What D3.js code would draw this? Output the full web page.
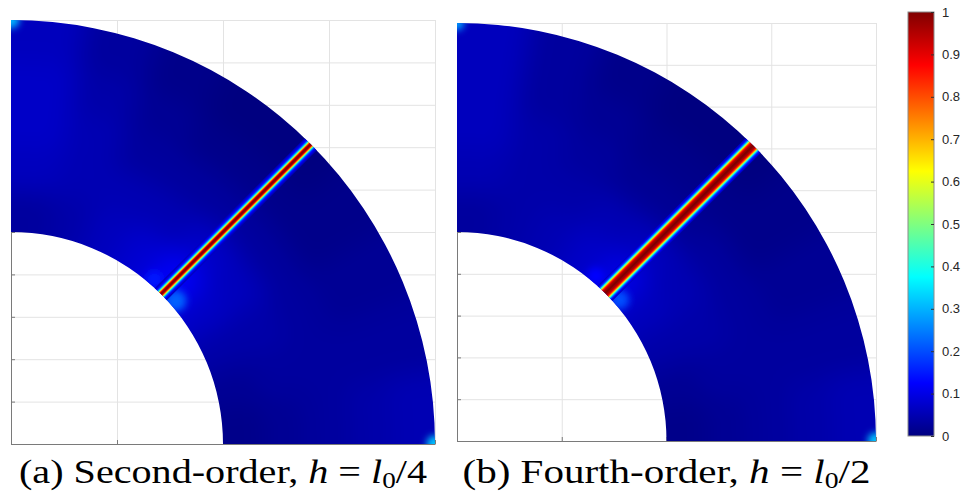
<!DOCTYPE html>
<html>
<head>
<meta charset="utf-8">
<script src="https://cdn.jsdelivr.net/npm/d3@7/dist/d3.min.js"></script>
<style>
  body { margin: 0; background: #fff; }
</style>
</head>
<body>
<div id="chart"></div>
<script>
// axis ticks / grid (domain units)
var xTicks = [0, 0.5, 1, 1.5, 2];
var yTicks = [0, 0.2, 0.4, 0.6, 0.8, 1, 1.2, 1.4, 1.6, 1.8, 2];

// quarter annulus and crack direction
var innerR = 1, outerR = 2, crackAngle = 45;

// coarse background field (rows: r bins inner->outer, cols: theta bins 0->90 deg)
var rEdges = [1, 1.2, 1.4, 1.6, 1.8, 2];
var thetaEdges = [0, 10, 20, 30, 40, 50, 60, 70, 80, 90];
var fieldA = [
  [0.01, 0.02, 0.04, 0.07, 0.12, 0.08, 0.06, 0.04, 0.03],
  [0.02, 0.03, 0.04, 0.06, 0.07, 0.05, 0.05, 0.05, 0.06],
  [0.03, 0.03, 0.03, 0.03, 0.03, 0.03, 0.03, 0.05, 0.07],
  [0.04, 0.03, 0.02, 0.01, 0.01, 0.01, 0.02, 0.04, 0.07],
  [0.05, 0.03, 0.02, 0.01, 0.00, 0.00, 0.01, 0.03, 0.06]
];
var fieldB = [
  [0.01, 0.02, 0.04, 0.06, 0.10, 0.07, 0.05, 0.04, 0.03],
  [0.02, 0.03, 0.04, 0.05, 0.06, 0.05, 0.04, 0.04, 0.05],
  [0.03, 0.03, 0.03, 0.03, 0.02, 0.02, 0.03, 0.04, 0.06],
  [0.04, 0.03, 0.02, 0.01, 0.01, 0.01, 0.02, 0.03, 0.06],
  [0.05, 0.03, 0.02, 0.01, 0.00, 0.00, 0.01, 0.03, 0.06]
];

// crack profile across the band: distance from crack line -> phase field value
var bandOffsetsA = [0, 0.0047, 0.0071, 0.0094, 0.0118, 0.0142, 0.0165, 0.0189, 0.0212, 0.0236, 0.0283, 0.033, 0.0377];
var bandValuesA  = [1.0, 0.97, 0.9, 0.8, 0.68, 0.55, 0.43, 0.33, 0.25, 0.19, 0.13, 0.09, 0.06];
var bandOffsetsB = [0, 0.0095, 0.0143, 0.0167, 0.019, 0.0215, 0.0239, 0.0263, 0.0287, 0.031, 0.0334, 0.0358, 0.038, 0.043, 0.048];
var bandValuesB  = [1.0, 0.97, 0.93, 0.89, 0.84, 0.77, 0.68, 0.57, 0.46, 0.37, 0.29, 0.22, 0.17, 0.11, 0.07];

// small bright spots (corners, crack tip at the inner arc)
var spotsA = [
  {r: 2, theta: 90, value: 0.3, size: 0.04},
  {r: 2, theta: 0, value: 0.32, size: 0.04},
  {r: 1.03, theta: 41, value: 0.22, size: 0.05},
  {r: 1.03, theta: 49, value: 0.15, size: 0.04}
];
var spotsB = [
  {r: 2, theta: 90, value: 0.28, size: 0.035},
  {r: 2, theta: 0, value: 0.32, size: 0.04},
  {r: 1.03, theta: 41, value: 0.2, size: 0.045},
  {r: 1.03, theta: 50, value: 0.13, size: 0.04}
];

// colorbar
var cbTicks = [0, 0.1, 0.2, 0.3, 0.4, 0.5, 0.6, 0.7, 0.8, 0.9, 1];

// captions (plain, italic and subscript pieces)
var captionA = [["(a) Second-order, ", ""], ["h", "i"], [" = ", ""], ["l", "i"], ["0", "sub"], ["/4", ""]];
var captionB = [["(b) Fourth-order, ", ""], ["h", "i"], [" = ", ""], ["l", "i"], ["0", "sub"], ["/2", ""]];

// jet colormap
var jet = d3.scaleLinear()
  .domain([0, 0.125, 0.375, 0.625, 0.875, 1])
  .range(["#000080", "#0000ff", "#00ffff", "#ffff00", "#ff0000", "#800000"])
  .clamp(true);

var svg = d3.select("#chart").append("svg")
  .attr("width", 970)
  .attr("height", 495);

var defs = svg.append("defs");
var blurBg = defs.append("filter").attr("id", "blurBg")
  .attr("x", "-20%").attr("y", "-20%").attr("width", "140%").attr("height", "140%");
blurBg.append("feGaussianBlur").attr("stdDeviation", 13);
var blurSpot = defs.append("filter").attr("id", "blurSpot")
  .attr("x", "-100%").attr("y", "-100%").attr("width", "300%").attr("height", "300%");
blurSpot.append("feGaussianBlur").attr("stdDeviation", 3.5);
var blurBand = defs.append("filter").attr("id", "blurBand");
blurBand.append("feGaussianBlur").attr("stdDeviation", 0.6);

var panels = [
  {id: "a", left: 11, top: 20, width: 424, height: 424, field: fieldA,
   offsets: bandOffsetsA, values: bandValuesA, spots: spotsA, caption: captionA},
  {id: "b", left: 457, top: 23, width: 419, height: 418, field: fieldB,
   offsets: bandOffsetsB, values: bandValuesB, spots: spotsB, caption: captionB}
];

function rad(t) { return t * Math.PI / 180; }

panels.forEach(function(p) {
  var x = d3.scaleLinear().domain([0, 2]).range([0, p.width]);
  var y = d3.scaleLinear().domain([0, 2]).range([p.height, 0]);

  var g = svg.append("g")
    .attr("transform", "translate(" + p.left + "," + p.top + ")");

  // polar point -> screen
  function pt(r, t) { return [x(r * Math.cos(rad(t))), y(r * Math.sin(rad(t)))]; }

  // grid lines
  g.append("g")
    .attr("class", "grid")
    .call(d3.axisBottom(x).tickValues(xTicks).tickSize(-p.height).tickFormat(""))
    .attr("transform", "translate(0," + p.height + ")");
  g.append("g")
    .attr("class", "grid")
    .call(d3.axisLeft(y).tickValues(yTicks).tickSize(-p.width).tickFormat(""));
  g.selectAll(".grid .domain").remove();
  g.selectAll(".grid line").attr("stroke", "#e3e3e3");

  // axes (left / bottom), ticks pointing inwards
  var ax = g.append("g")
    .attr("transform", "translate(0," + p.height + ")")
    .call(d3.axisBottom(x).tickValues(xTicks).tickSize(-4).tickSizeOuter(0).tickFormat(""));
  var ay = g.append("g")
    .call(d3.axisLeft(y).tickValues(yTicks).tickSize(-4).tickSizeOuter(0).tickFormat(""));
  [ax, ay].forEach(function(a) {
    a.selectAll("path, line").attr("stroke", "#7a7a7a");
  });

  // clip to quarter annulus
  var o0 = pt(outerR, 90), o1 = pt(outerR, 0), i0 = pt(innerR, 0), i1 = pt(innerR, 90);
  var ringPath = "M" + o0 + " A" + (x(outerR) - x(0)) + "," + (y(0) - y(outerR)) + " 0 0 1 " + o1 +
    " L" + i0 + " A" + (x(innerR) - x(0)) + "," + (y(0) - y(innerR)) + " 0 0 0 " + i1 + " Z";
  defs.append("clipPath").attr("id", "ring" + p.id)
    .append("path").attr("d", ringPath);

  var heat = g.append("g").attr("clip-path", "url(#ring" + p.id + ")");

  // background field cells (edge cells stretched so the blur has no fade at the border)
  var cells = [];
  p.field.forEach(function(row, i) {
    row.forEach(function(v, j) {
      cells.push({
        r0: i === 0 ? 0.6 : rEdges[i],
        r1: i === rEdges.length - 2 ? 2.4 : rEdges[i + 1],
        t0: j === 0 ? -20 : thetaEdges[j],
        t1: j === thetaEdges.length - 2 ? 110 : thetaEdges[j + 1],
        value: v
      });
    });
  });
  function cellPath(c) {
    var pts = [];
    d3.range(c.t0, c.t1 + 0.01, 2).forEach(function(t) { pts.push(pt(c.r0, t)); });
    d3.range(c.t1, c.t0 - 0.01, -2).forEach(function(t) { pts.push(pt(c.r1, t)); });
    return "M" + pts.join("L") + "Z";
  }
  heat.append("g")
    .attr("filter", "url(#blurBg)")
    .selectAll("path")
    .data(cells)
    .enter()
    .append("path")
      .attr("d", cellPath)
      .attr("fill", function(d) { return jet(d.value); })
      .attr("stroke", function(d) { return jet(d.value); })
      .attr("stroke-width", 1);

  // bright spots
  heat.append("g")
    .attr("filter", "url(#blurSpot)")
    .selectAll("circle")
    .data(p.spots)
    .enter()
    .append("circle")
      .attr("cx", function(d) { return pt(d.r, d.theta)[0]; })
      .attr("cy", function(d) { return pt(d.r, d.theta)[1]; })
      .attr("r", function(d) { return x(d.size) - x(0); })
      .attr("fill", function(d) { return jet(d.value); });

  // crack band: strips from widest (low value) to narrowest (peak)
  var n = p.offsets.length;
  var strips = p.offsets.map(function(d, i) {
    var half = i === n - 1 ? d + (d - p.offsets[i - 1]) / 2 : (d + p.offsets[i + 1]) / 2;
    return {half: half, value: p.values[i]};
  }).reverse();
  var ux = Math.cos(rad(crackAngle)), uy = Math.sin(rad(crackAngle));
  var nx = -uy, ny = ux;
  function stripPath(s) {
    var a = 0.8, b = 2.2;
    var pts = [
      [a * ux + s.half * nx, a * uy + s.half * ny],
      [b * ux + s.half * nx, b * uy + s.half * ny],
      [b * ux - s.half * nx, b * uy - s.half * ny],
      [a * ux - s.half * nx, a * uy - s.half * ny]
    ].map(function(q) { return [x(q[0]), y(q[1])]; });
    return "M" + pts.join("L") + "Z";
  }
  heat.append("g")
    .attr("filter", "url(#blurBand)")
    .selectAll("path")
    .data(strips)
    .enter()
    .append("path")
      .attr("d", stripPath)
      .attr("fill", function(d) { return jet(d.value); });

  // caption
  var cap = svg.append("text")
    .attr("x", p.left + p.width / 2)
    .attr("y", 483)
    .attr("text-anchor", "middle")
    .attr("font-family", "'Liberation Serif', 'DejaVu Serif', serif")
    .attr("font-size", 34)
    .attr("fill", "#000");
  p.caption.forEach(function(c, k) {
    var ts = cap.append("tspan").text(c[0]);
    if (c[1] === "i") ts.attr("font-style", "italic");
    if (c[1] === "sub") ts.attr("font-size", 23).attr("dy", 5);
    if (k > 0 && p.caption[k - 1][1] === "sub") ts.attr("dy", -5);
  });
  cap.attr("textLength", 408).attr("lengthAdjust", "spacingAndGlyphs");
});

// colorbar
var cbX = 908, cbTop = 12, cbW = 26, cbH = 424;
var cbScale = d3.scaleLinear().domain([0, 1]).range([cbTop + cbH, cbTop]);
var grad = defs.append("linearGradient").attr("id", "jetGrad")
  .attr("x1", 0).attr("y1", 1).attr("x2", 0).attr("y2", 0);
grad.selectAll("stop")
  .data(jet.domain())
  .enter()
  .append("stop")
    .attr("offset", function(d) { return d; })
    .attr("stop-color", function(d) { return jet(d); });
svg.append("rect")
  .attr("x", cbX).attr("y", cbTop)
  .attr("width", cbW).attr("height", cbH)
  .attr("fill", "url(#jetGrad)")
  .attr("stroke", "#8a8a8a")
  .attr("stroke-width", 1);
var cbAxis = svg.append("g")
  .attr("transform", "translate(" + (cbX + cbW) + ",0)")
  .call(d3.axisRight(cbScale).tickValues(cbTicks).tickSize(-3).tickSizeOuter(0).tickPadding(8)
    .tickFormat(d3.format(".1~f")));
cbAxis.select(".domain").remove();
cbAxis.selectAll("line").attr("stroke", "#333");
cbAxis.selectAll("text")
  .attr("font-family", "'Liberation Sans', Arial, sans-serif")
  .attr("font-size", 13)
  .attr("fill", "#262626");
</script>
</body>
</html>
